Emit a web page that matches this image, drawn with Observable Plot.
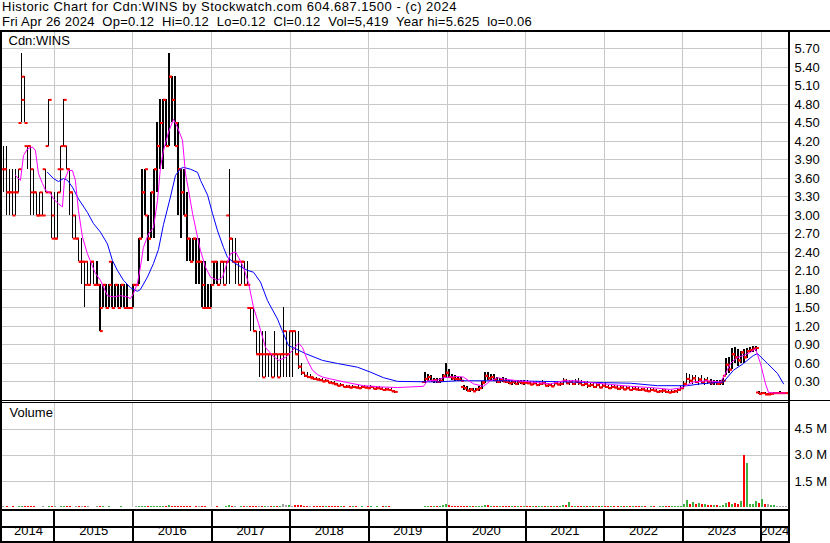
<!DOCTYPE html>
<html><head><meta charset="utf-8">
<script src="https://cdn.jsdelivr.net/npm/d3@7"></script>
<script src="https://cdn.jsdelivr.net/npm/@observablehq/plot@0.6"></script>
<style>
body{margin:0;background:#fff;width:830px;height:543px;overflow:hidden;position:relative;font-family:"Liberation Sans",Arial,sans-serif;color:#000;}
#hdr1{position:absolute;left:2px;top:0;font-size:13px;letter-spacing:0.5px;line-height:14px;white-space:pre;}
#hdr2{position:absolute;left:2px;top:15px;font-size:13px;letter-spacing:0.25px;line-height:14px;white-space:pre;}
.abs{position:absolute;left:0;}
.ln{position:absolute;background:#000;}
svg{display:block;}
</style></head><body>
<div id="hdr1"></div>
<div id="hdr2"></div>
<div id="price" class="abs" style="top:32px"></div>
<div id="vol" class="abs" style="top:403px"></div>
<div id="dates" class="abs" style="top:511px"></div>
<div class="ln" style="left:0;top:30px;width:830px;height:2px"></div>
<div class="ln" style="left:0;top:30px;width:2px;height:513px"></div>
<div class="ln" style="left:788px;top:30px;width:2px;height:513px"></div>
<div class="ln" style="left:0;top:400px;width:830px;height:1px"></div>
<div class="ln" style="left:0;top:402px;width:790px;height:1px"></div>
<div class="ln" style="left:0;top:509px;width:790px;height:2px"></div>
<div class="ln" style="left:0;top:526px;width:790px;height:2px"></div>
<div class="ln" style="left:0;top:541px;width:790px;height:2px"></div>
<script>
// ---------- text ----------
const titleLine1 = "Historic Chart for Cdn:WINS by Stockwatch.com 604.687.1500 - (c) 2024";
const titleLine2 = "Fri Apr 26 2024  Op=0.12  Hi=0.12  Lo=0.12  Cl=0.12  Vol=5,419  Year hi=5.625  lo=0.06";
const symbolLabel = "Cdn:WINS";
const volumeLabel = "Volume";

// ---------- bars: one bar every 14 days starting 2014-05-09 ----------
const barStart = "2014-05-09";
const barStepDays = 14;
const open = [
3.75,3.75,3.375,3.375,3.375,3.375,4.5,4.875,4.125,4.125,
3.375,3.375,3.0,3.375,3.75,4.125,3.375,3.0,2.625,3.75,
4.125,4.125,3.75,3.375,3.0,2.625,2.25,2.25,2.25,1.875,
2.25,1.875,1.875,1.5,1.875,1.5,2.25,1.5,1.875,1.5,
1.875,1.5,1.5,1.5,1.875,1.875,2.625,3.375,3.0,2.625,
3.375,3.75,4.125,4.5,4.875,4.125,5.25,4.875,4.125,3.75,
3.375,3.0,2.625,2.25,2.625,2.25,2.25,1.5,1.5,1.5,
2.25,2.25,1.875,2.25,2.25,3.0,2.625,2.25,2.25,2.25,
2.25,1.875,1.5,1.5,1.125,0.75,0.75,0.75,0.75,0.75,
0.75,0.75,0.75,0.75,1.125,0.75,1.125,1.125,0.75,0.55,
0.45,0.4,0.38,0.36,0.35,0.34,0.33,0.31,0.32,0.29,
0.28,0.26,0.24,0.25,0.22,0.22,0.21,0.22,0.21,0.2,
0.22,0.21,0.2,0.22,0.19,0.2,0.19,0.17,0.18,0.17,
0.15,null,null,null,null,null,null,null,null,null,
0.3,0.35,0.38,0.32,0.33,0.3,0.32,0.4,0.45,0.38,
0.36,0.35,0.34,0.22,0.2,0.16,0.18,0.15,0.18,0.2,
0.3,0.4,0.36,0.38,0.33,0.3,0.33,0.31,0.3,0.28,
0.3,0.27,0.3,0.28,0.29,0.28,0.26,0.28,0.25,0.27,
0.28,0.24,0.25,0.23,0.28,0.26,0.27,0.32,0.28,0.3,
0.27,0.3,0.28,0.25,0.27,0.24,0.25,0.22,0.25,0.21,
0.24,0.22,0.2,0.22,0.21,0.19,0.21,0.18,0.2,0.17,
0.19,0.18,0.17,0.18,0.16,0.15,0.17,0.16,0.14,0.15,
0.16,0.14,0.13,0.14,0.15,0.17,0.2,0.27,0.35,0.32,
0.36,0.3,0.34,0.29,0.33,0.3,0.28,0.3,0.27,0.29,
0.4,0.58,0.5,0.75,0.7,0.65,0.78,0.7,0.8,0.82,
0.84,0.13,0.11,0.12,0.1,0.1,0.11,0.12,0.12,0.12,
0.12];
const high = [
4.125,4.125,3.75,3.75,3.75,3.75,5.625,5.25,4.125,4.125,
3.75,3.375,3.375,3.375,3.75,4.875,3.375,3.375,3.375,4.125,
4.875,4.125,3.75,3.375,3.0,2.625,2.625,2.25,2.25,2.25,
2.25,2.25,1.875,1.875,1.875,1.875,2.25,1.875,1.875,1.875,
1.875,1.875,1.5,1.875,1.875,2.625,3.75,3.75,3.0,3.375,
3.75,4.5,4.875,4.875,4.875,5.625,5.25,5.25,4.5,3.75,
3.75,3.375,2.625,2.625,2.625,2.625,2.25,2.25,1.875,1.875,
2.25,2.25,2.25,2.25,2.25,3.75,2.625,2.625,2.25,2.25,
2.25,2.25,1.5,1.5,1.125,1.125,1.125,1.125,0.75,0.75,
1.125,0.75,0.75,1.5,1.125,1.125,1.125,1.125,1.125,0.6,
0.45,0.45,0.42,0.38,0.38,0.36,0.35,0.34,0.33,0.31,
0.3,0.28,0.27,0.26,0.25,0.24,0.24,0.23,0.24,0.23,
0.24,0.23,0.24,0.23,0.22,0.22,0.21,0.2,0.2,0.19,
0.17,null,null,null,null,null,null,null,null,null,
0.45,0.42,0.4,0.36,0.36,0.35,0.42,0.6,0.5,0.42,
0.4,0.38,0.37,0.25,0.22,0.2,0.2,0.2,0.22,0.3,
0.45,0.45,0.42,0.42,0.38,0.36,0.37,0.35,0.33,0.32,
0.33,0.32,0.32,0.32,0.33,0.31,0.3,0.31,0.3,0.32,
0.3,0.28,0.28,0.3,0.31,0.3,0.36,0.34,0.33,0.33,
0.34,0.35,0.32,0.3,0.3,0.28,0.28,0.27,0.28,0.26,
0.27,0.25,0.24,0.25,0.24,0.23,0.23,0.22,0.22,0.21,
0.22,0.21,0.2,0.2,0.19,0.19,0.2,0.18,0.17,0.18,
0.18,0.17,0.16,0.17,0.2,0.22,0.3,0.44,0.42,0.4,
0.4,0.38,0.4,0.36,0.38,0.34,0.32,0.33,0.32,0.35,
0.68,0.7,0.84,0.86,0.82,0.8,0.82,0.84,0.86,0.87,
0.88,0.14,0.13,0.13,0.12,0.12,0.13,0.13,0.14,0.13,
0.12];
const low = [
3.375,3.0,3.0,3.0,3.0,3.375,4.5,4.5,3.75,3.0,
3.0,3.0,3.0,3.0,3.375,4.125,2.625,2.625,2.625,3.375,
4.125,3.75,3.0,2.625,2.625,2.25,1.875,1.5,1.875,1.875,
1.875,1.875,1.125,1.5,1.5,1.5,1.5,1.5,1.5,1.5,
1.5,1.5,1.5,1.5,1.875,1.875,2.625,3.0,2.25,2.625,
2.625,3.375,3.75,3.75,4.125,4.125,4.5,4.125,3.0,2.625,
3.0,2.25,2.25,2.25,1.875,1.875,1.5,1.5,1.5,1.5,
1.875,1.875,1.875,1.875,1.875,1.875,2.25,1.875,1.875,1.875,
1.875,1.875,1.125,1.125,0.75,0.375,0.375,0.375,0.375,0.375,
0.375,0.375,0.375,0.375,0.375,0.375,0.375,0.75,0.5,0.4,
0.38,0.36,0.35,0.33,0.32,0.3,0.3,0.3,0.28,0.27,
0.25,0.23,0.22,0.21,0.2,0.2,0.19,0.2,0.19,0.19,
0.2,0.19,0.19,0.18,0.17,0.18,0.16,0.15,0.16,0.14,
0.12,null,null,null,null,null,null,null,null,null,
0.27,0.3,0.3,0.28,0.28,0.27,0.3,0.36,0.35,0.33,
0.3,0.3,0.3,0.16,0.14,0.13,0.14,0.14,0.15,0.18,
0.28,0.32,0.3,0.3,0.28,0.28,0.29,0.27,0.26,0.25,
0.26,0.25,0.26,0.25,0.26,0.24,0.24,0.24,0.23,0.24,
0.22,0.21,0.22,0.22,0.24,0.22,0.25,0.26,0.25,0.25,
0.24,0.25,0.22,0.22,0.2,0.21,0.2,0.2,0.19,0.19,
0.19,0.18,0.18,0.19,0.17,0.17,0.17,0.16,0.16,0.15,
0.16,0.15,0.14,0.14,0.13,0.13,0.14,0.13,0.12,0.12,
0.12,0.11,0.11,0.11,0.12,0.14,0.18,0.25,0.28,0.26,
0.28,0.25,0.27,0.24,0.26,0.25,0.24,0.25,0.24,0.25,
0.4,0.44,0.5,0.6,0.55,0.6,0.6,0.68,0.78,0.78,
0.8,0.09,0.09,0.09,0.08,0.08,0.09,0.1,0.1,0.11,
0.12];
const close = [
3.75,3.375,3.375,3.0,3.375,3.75,5.25,4.5,4.125,3.75,
3.375,3.0,3.0,3.0,3.375,4.875,2.625,2.625,3.375,3.75,
4.875,3.75,3.375,2.625,2.625,2.25,2.25,1.875,1.875,2.25,
1.875,1.875,1.125,1.875,1.5,1.875,1.5,1.875,1.5,1.875,
1.5,1.5,1.5,1.875,1.875,2.625,3.375,3.75,2.625,3.375,
3.75,4.125,4.5,4.875,4.125,5.25,4.875,4.5,3.75,3.375,
3.0,2.625,2.25,2.625,2.25,2.25,1.875,1.5,1.5,1.875,
2.25,1.875,2.25,1.875,2.25,2.625,2.25,2.25,1.875,2.25,
1.875,1.875,1.5,1.125,0.75,0.75,0.375,0.75,0.75,0.375,
0.75,0.375,0.75,0.75,0.75,1.125,1.125,0.75,0.55,0.45,
0.4,0.38,0.38,0.35,0.34,0.33,0.31,0.32,0.29,0.28,
0.27,0.24,0.25,0.22,0.23,0.21,0.22,0.21,0.2,0.22,
0.21,0.2,0.22,0.19,0.2,0.19,0.17,0.18,0.17,0.15,
0.14,null,null,null,null,null,null,null,null,null,
0.35,0.38,0.32,0.33,0.3,0.32,0.4,0.45,0.38,0.36,
0.35,0.34,0.32,0.2,0.16,0.18,0.15,0.18,0.2,0.28,
0.4,0.36,0.38,0.33,0.3,0.33,0.31,0.3,0.28,0.3,
0.27,0.3,0.28,0.29,0.28,0.26,0.28,0.25,0.27,0.28,
0.24,0.25,0.23,0.28,0.26,0.27,0.32,0.28,0.3,0.27,
0.3,0.28,0.25,0.27,0.24,0.25,0.22,0.25,0.21,0.24,
0.22,0.2,0.22,0.21,0.19,0.21,0.18,0.2,0.17,0.19,
0.18,0.17,0.18,0.16,0.15,0.17,0.16,0.14,0.15,0.16,
0.14,0.13,0.14,0.15,0.17,0.2,0.27,0.35,0.32,0.36,
0.3,0.34,0.29,0.33,0.3,0.28,0.3,0.27,0.29,0.32,
0.58,0.5,0.75,0.7,0.65,0.78,0.7,0.8,0.82,0.84,
0.85,0.11,0.12,0.1,0.1,0.11,0.12,0.12,0.12,0.12,
0.12];
// volume per bar, thousands of shares
const volumeK = [
40,30,20,30,25,60,80,50,40,30,
30,20,25,30,20,50,40,30,20,30,
60,40,30,25,30,40,30,50,30,20,
25,30,60,40,20,30,20,25,20,30,
20,25,15,20,30,50,80,60,40,50,
60,70,80,60,50,90,70,60,50,40,
40,50,30,25,30,40,50,30,20,25,
20,30,25,20,30,90,40,30,25,30,
35,30,60,80,50,70,60,40,50,40,
60,50,70,150,120,90,80,100,140,90,
70,60,50,40,60,50,40,30,40,50,
30,40,60,30,20,30,40,30,20,30,
20,30,40,20,30,20,30,40,30,20,
20,null,null,null,null,null,null,null,null,null,
80,60,50,40,50,60,90,150,100,70,
60,50,40,50,60,40,50,40,60,80,
120,90,70,60,50,60,50,40,60,50,
70,60,50,40,60,50,40,50,60,40,
50,40,60,70,50,40,100,90,300,60,
50,70,60,50,40,50,60,40,50,40,
50,40,30,40,50,40,30,40,50,30,
40,30,40,30,20,40,30,20,30,40,
30,40,30,40,50,80,150,380,200,260,
180,220,150,160,120,100,90,110,80,90,
250,300,180,220,150,350,3000,2550,200,150,
320,250,450,200,150,120,100,80,60,50,
40];

// ---------- moving averages (decimal year, price) ----------
const maShortT = [2014.503,2014.567,2014.605,2014.656,2014.720,2014.758,2014.796,2014.847,2014.885,2014.949,2014.987,2015.051,2015.102,2015.127,2015.178,2015.229,2015.267,2015.306,2015.357,2015.420,2015.522,2015.586,2015.675,2015.751,2015.841,2015.930,2015.968,2016.006,2016.057,2016.095,2016.133,2016.197,2016.261,2016.312,2016.350,2016.388,2016.452,2016.516,2016.566,2016.630,2016.668,2016.707,2016.758,2016.821,2016.859,2016.923,2016.987,2017.076,2017.140,2017.178,2017.241,2017.305,2017.343,2017.407,2017.471,2017.534,2017.598,2017.662,2017.687,2017.776,2017.853,2017.942,2018.031,2018.107,2018.158,2018.222,2018.286,2018.349,2018.413,2018.515,2018.732,2018.935,2019.152,2019.368,2019.700,2019.750,2019.878,2019.954,2020.132,2020.209,2020.336,2020.464,2020.553,2020.642,2020.718,2020.897,2021.151,2021.317,2021.482,2021.661,2021.826,2022.081,2022.336,2022.591,2022.845,2023.011,2023.036,2023.138,2023.316,2023.482,2023.545,2023.609,2023.698,2023.775,2023.864,2023.928,2023.992,2024.056,2024.094,2024.208,2024.310];
const maShortV = [3.65,3.57,3.97,4.08,4.11,4.05,3.68,3.52,3.41,3.36,3.27,3.19,3.14,3.57,3.73,3.73,3.57,3.08,2.65,2.38,2.06,1.95,1.70,1.68,1.70,1.68,1.65,1.73,1.90,2.16,2.48,2.70,2.80,3.24,3.78,4.05,4.35,4.56,4.43,4.22,3.68,3.41,3.03,2.65,2.43,2.16,2.00,1.95,2.00,2.16,2.38,2.41,2.32,2.16,1.90,1.51,1.25,0.97,0.86,0.73,0.65,0.70,0.81,0.93,0.86,0.65,0.49,0.42,0.38,0.35,0.29,0.24,0.22,0.21,0.23,0.32,0.33,0.37,0.39,0.38,0.27,0.23,0.32,0.37,0.35,0.32,0.29,0.27,0.32,0.32,0.29,0.26,0.23,0.21,0.18,0.21,0.24,0.30,0.32,0.30,0.43,0.60,0.70,0.73,0.78,0.84,0.60,0.27,0.13,0.12,0.12];
const maLongT = [2014.911,2014.987,2015.051,2015.115,2015.166,2015.229,2015.306,2015.420,2015.497,2015.586,2015.675,2015.739,2015.802,2015.879,2015.968,2016.057,2016.095,2016.184,2016.261,2016.325,2016.388,2016.477,2016.541,2016.605,2016.643,2016.732,2016.821,2016.859,2016.949,2017.012,2017.076,2017.152,2017.203,2017.280,2017.369,2017.458,2017.534,2017.623,2017.712,2017.840,2017.904,2017.980,2018.069,2018.197,2018.413,2018.604,2018.859,2019.024,2019.190,2019.368,2019.878,2020.132,2020.718,2021.228,2021.572,2021.992,2022.336,2022.680,2023.062,2023.227,2023.520,2023.647,2023.775,2023.902,2023.953,2024.081,2024.208,2024.285];
const maLongV = [3.70,3.60,3.55,3.60,3.57,3.46,3.27,3.05,2.87,2.73,2.54,2.27,2.11,1.95,1.83,1.77,1.80,2.00,2.22,2.45,2.85,3.30,3.65,3.76,3.78,3.75,3.70,3.57,3.33,3.03,2.75,2.48,2.32,2.24,2.17,2.11,2.08,1.92,1.62,1.32,1.12,0.89,0.84,0.76,0.65,0.60,0.54,0.46,0.37,0.31,0.30,0.32,0.32,0.31,0.30,0.29,0.28,0.24,0.24,0.27,0.30,0.49,0.60,0.73,0.76,0.60,0.44,0.27];

// ---------- axes ----------
const priceTicks = [0.30,0.60,0.90,1.20,1.50,1.80,2.10,2.40,2.70,3.00,3.30,3.60,3.90,4.20,4.50,4.80,5.10,5.40,5.70];
const volumeTicks = [1500000,3000000,4500000];
const yearBoundaries = [2015,2016,2017,2018,2019,2020,2021,2022,2023,2024];
const yearLabels = ["2014","2015","2016","2017","2018","2019","2020","2021","2022","2023","2024"];
const xStartYear = 2014.338, xEndYear = 2024.348;
const priceMax = 5.967, volumeMax = 5963000;

// ---------- build ----------
const fromYear = t => { const y = Math.floor(t); const a = Date.UTC(y,0,1), b = Date.UTC(y+1,0,1); return new Date(a + (t - y) * (b - a)); };
const t0 = new Date(barStart + "T00:00:00Z").getTime();
let prevClose = null;
const bars = [];
open.forEach((o, i) => {
  if (o == null) return;
  const c = close[i];
  const col = prevClose == null || c === prevClose ? "#a0a0a0" : (c > prevClose ? "#3cb043" : "#ff0000");
  bars.push({date: new Date(t0 + i * barStepDays * 864e5), open: o, high: high[i], low: low[i], close: c, vol: volumeK[i] * 1000, col});
  prevClose = c;
});
const maShort = maShortT.map((t, i) => ({date: fromYear(t), v: maShortV[i]}));
const maLong = maLongT.map((t, i) => ({date: fromYear(t), v: maLongV[i]}));
const xDomain = [fromYear(xStartYear), fromYear(xEndYear)];
const yearDates = yearBoundaries.map(y => new Date(Date.UTC(y,0,1)));
const yearMid = yearLabels.map(s => {
  const y = +s;
  const a = Math.max(Date.UTC(y,0,1), xDomain[0].getTime());
  const b = Math.min(Date.UTC(y+1,0,1), xDomain[1].getTime());
  return {label: s, mid: new Date((a + b) / 2)};
});

document.getElementById("hdr1").textContent = titleLine1;
document.getElementById("hdr2").textContent = titleLine2;

const font = {fontFamily: "'Liberation Sans', Arial, sans-serif", fontSize: "13px", color: "#000", background: "transparent", overflow: "visible"};
const grid = "#c8c8c8";
const leftTick = {draw(ctx) { ctx.moveTo(-3, 0); ctx.lineTo(0, 0); }};
const rightTick = {draw(ctx) { ctx.moveTo(0, 0); ctx.lineTo(3, 0); }};

const price = Plot.plot({
  width: 830, height: 368,
  marginLeft: 2, marginRight: 42, marginTop: 0, marginBottom: 0,
  style: font,
  x: {type: "utc", domain: xDomain, axis: null},
  y: {domain: [0, priceMax], axis: null},
  marks: [
    Plot.ruleY(priceTicks, {stroke: grid, shapeRendering: "crispEdges"}),
    Plot.ruleX(yearDates, {stroke: grid, shapeRendering: "crispEdges"}),
    Plot.ruleX(bars, {x: "date", y1: "low", y2: "high", stroke: "#000", strokeWidth: 1.4, shapeRendering: "crispEdges"}),
    Plot.dot(bars, {x: "date", y: "open", symbol: leftTick, fill: "none", stroke: "#ff0000", strokeWidth: 2}),
    Plot.dot(bars, {x: "date", y: "close", symbol: rightTick, fill: "none", stroke: "#ff0000", strokeWidth: 2}),
    Plot.line(maLong, {x: "date", y: "v", stroke: "#0000ff", strokeWidth: 1}),
    Plot.line(maShort, {x: "date", y: "v", stroke: "#ff00ff", strokeWidth: 1}),
    Plot.axisY({anchor: "right", ticks: priceTicks, tickSize: 0, tickPadding: 6, tickFormat: d => d.toFixed(2), label: null, fontSize: 13, fill: "#000"}),
    Plot.text([symbolLabel], {frameAnchor: "top-left", dx: 6, dy: 3, fontSize: 13, fill: "#000"})
  ]
});
document.getElementById("price").append(price);

const vol = Plot.plot({
  width: 830, height: 106,
  marginLeft: 2, marginRight: 42, marginTop: 0, marginBottom: 2,
  style: font,
  x: {type: "utc", domain: xDomain, axis: null},
  y: {domain: [0, volumeMax], axis: null},
  marks: [
    Plot.ruleY(volumeTicks, {stroke: grid, shapeRendering: "crispEdges"}),
    Plot.ruleX(yearDates, {stroke: grid, shapeRendering: "crispEdges"}),
    Plot.ruleX(bars, {x: "date", y: "vol", stroke: d => d.col, strokeWidth: 2, shapeRendering: "crispEdges"}),
    Plot.axisY({anchor: "right", ticks: volumeTicks, tickSize: 0, tickPadding: 6, tickFormat: d => (d / 1e6).toFixed(1) + " M", label: null, fontSize: 13, fill: "#000"}),
    Plot.text([volumeLabel], {frameAnchor: "top-left", dx: 7, dy: 4, fontSize: 13, fill: "#000"})
  ]
});
document.getElementById("vol").append(vol);

const dates = Plot.plot({
  width: 830, height: 30,
  marginLeft: 2, marginRight: 42, marginTop: 0, marginBottom: 0,
  style: font,
  x: {type: "utc", domain: xDomain, axis: null},
  marks: [
    Plot.ruleX(yearDates, {stroke: "#000", strokeWidth: 2, shapeRendering: "crispEdges"}),
    Plot.text(yearMid, {x: "mid", text: "label", frameAnchor: "bottom", dy: -7, fontSize: 13, fill: "#000"})
  ]
});
document.getElementById("dates").append(dates);
</script>
</body></html>
